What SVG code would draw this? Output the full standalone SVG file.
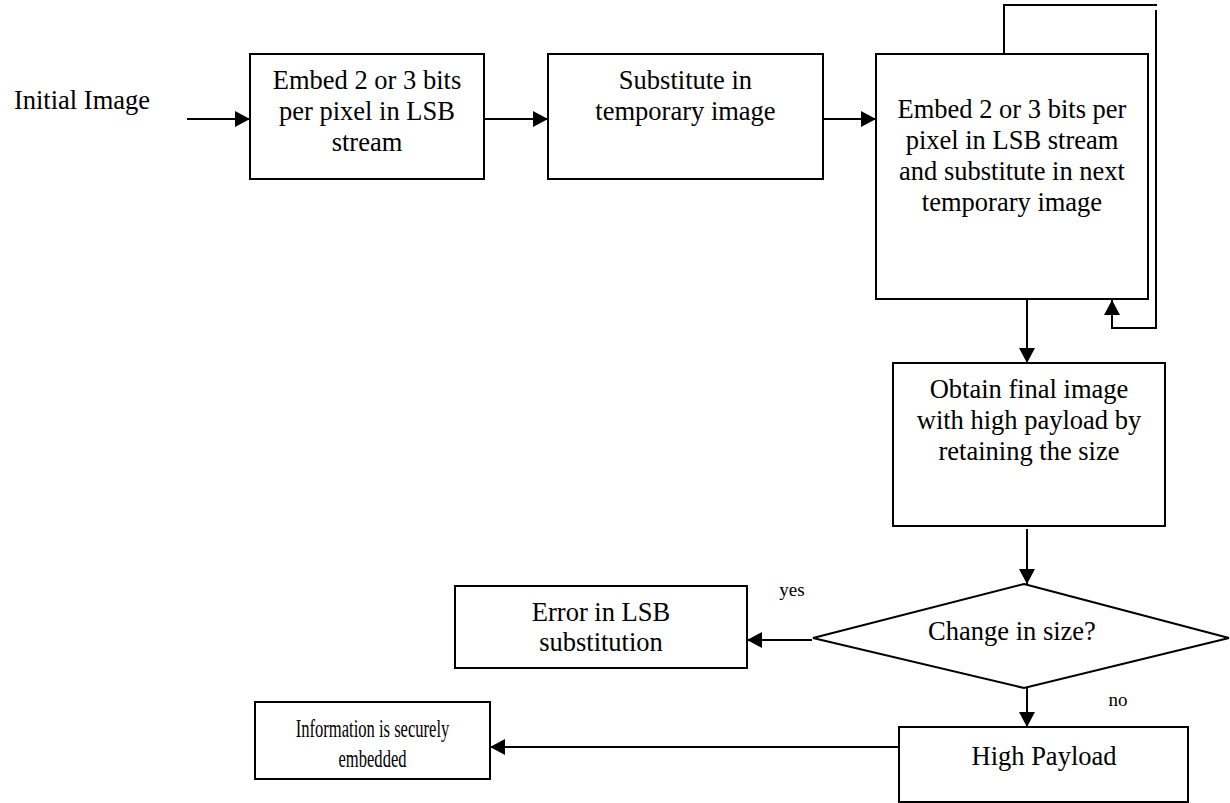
<svg xmlns="http://www.w3.org/2000/svg" width="1230" height="803" viewBox="0 0 1230 803">
<style>
.box{fill:#fff;stroke:#000;stroke-width:2}
.ln{fill:none;stroke:#000;stroke-width:2}
.t{font-family:"Liberation Serif","Times New Roman",serif;font-size:26.5px;fill:#000;text-anchor:middle}
.s{font-family:"Liberation Serif","Times New Roman",serif;font-size:19px;fill:#000;text-anchor:middle}
</style>
<defs>
<marker id="ah" markerUnits="userSpaceOnUse" markerWidth="16" markerHeight="16" refX="15" refY="8" orient="auto">
<path d="M0,0 L15,8 L0,16 Z" fill="#000"/>
</marker>
</defs>
<rect width="1230" height="803" fill="#fff"/>
<g id="connectors">
<line class="ln" x1="187" y1="119" x2="250" y2="119" marker-end="url(#ah)"/>
<line class="ln" x1="484" y1="119" x2="548" y2="119" marker-end="url(#ah)"/>
<line class="ln" x1="823" y1="119" x2="876" y2="119" marker-end="url(#ah)"/>
<polyline class="ln" points="1004,54 1004,5 1157,5"/>
<polyline class="ln" points="1156,10 1156,328 1112,328 1112,300" marker-end="url(#ah)"/>
<line class="ln" x1="1027" y1="299" x2="1027" y2="363" marker-end="url(#ah)"/>
<line class="ln" x1="1027" y1="529" x2="1027" y2="584" marker-end="url(#ah)"/>
<line class="ln" x1="812" y1="640" x2="747" y2="640" marker-end="url(#ah)"/>
<line class="ln" x1="1027" y1="688" x2="1027" y2="727" marker-end="url(#ah)"/>
<line class="ln" x1="899" y1="747" x2="490" y2="747" marker-end="url(#ah)"/>
<text class="s" x="792" y="596">yes</text>
<text class="s" x="1118" y="706">no</text>
</g>
<g id="initial">
<text class="t" x="82" y="109">Initial Image</text>
</g>
<g id="embed1">
<rect class="box" x="250" y="54" width="234" height="125"/>
<text class="t" x="367" y="89">Embed 2 or 3 bits</text>
<text class="t" x="367" y="120">per pixel in LSB</text>
<text class="t" x="367" y="151">stream</text>
</g>
<g id="substitute">
<rect class="box" x="548" y="54" width="275" height="125"/>
<text class="t" x="685.5" y="89">Substitute in</text>
<text class="t" x="685.5" y="120">temporary image</text>
</g>
<g id="embed2">
<rect class="box" x="876" y="54" width="272" height="245"/>
<text class="t" x="1012" y="118">Embed 2 or 3 bits per</text>
<text class="t" x="1012" y="149">pixel in LSB stream</text>
<text class="t" x="1012" y="180">and substitute in next</text>
<text class="t" x="1012" y="211">temporary image</text>
</g>
<g id="final">
<rect class="box" x="893" y="363" width="272" height="163"/>
<text class="t" x="1029" y="398">Obtain final image</text>
<text class="t" x="1029" y="429">with high payload by</text>
<text class="t" x="1029" y="460">retaining the size</text>
</g>
<g id="decision">
<polygon class="box" points="1024,584 1229,638 1024,688 813,638"/>
<text class="t" x="1012" y="640">Change in size?</text>
</g>
<g id="error">
<rect class="box" x="455" y="586" width="292" height="82"/>
<text class="t" x="601" y="621">Error in LSB</text>
<text class="t" x="601" y="651">substitution</text>
</g>
<g id="payload">
<rect class="box" x="899" y="727" width="289" height="75"/>
<text class="t" x="1044" y="765">High Payload</text>
</g>
<g id="secure">
<rect class="box" x="255" y="702" width="235" height="77"/>
<text class="t" transform="translate(372.5,737) scale(0.65,1)" x="0" y="0" style="font-size:25.5px">Information is securely</text>
<text class="t" transform="translate(372.5,767) scale(0.65,1)" x="0" y="0" style="font-size:25.5px">embedded</text>
</g>
</svg>
